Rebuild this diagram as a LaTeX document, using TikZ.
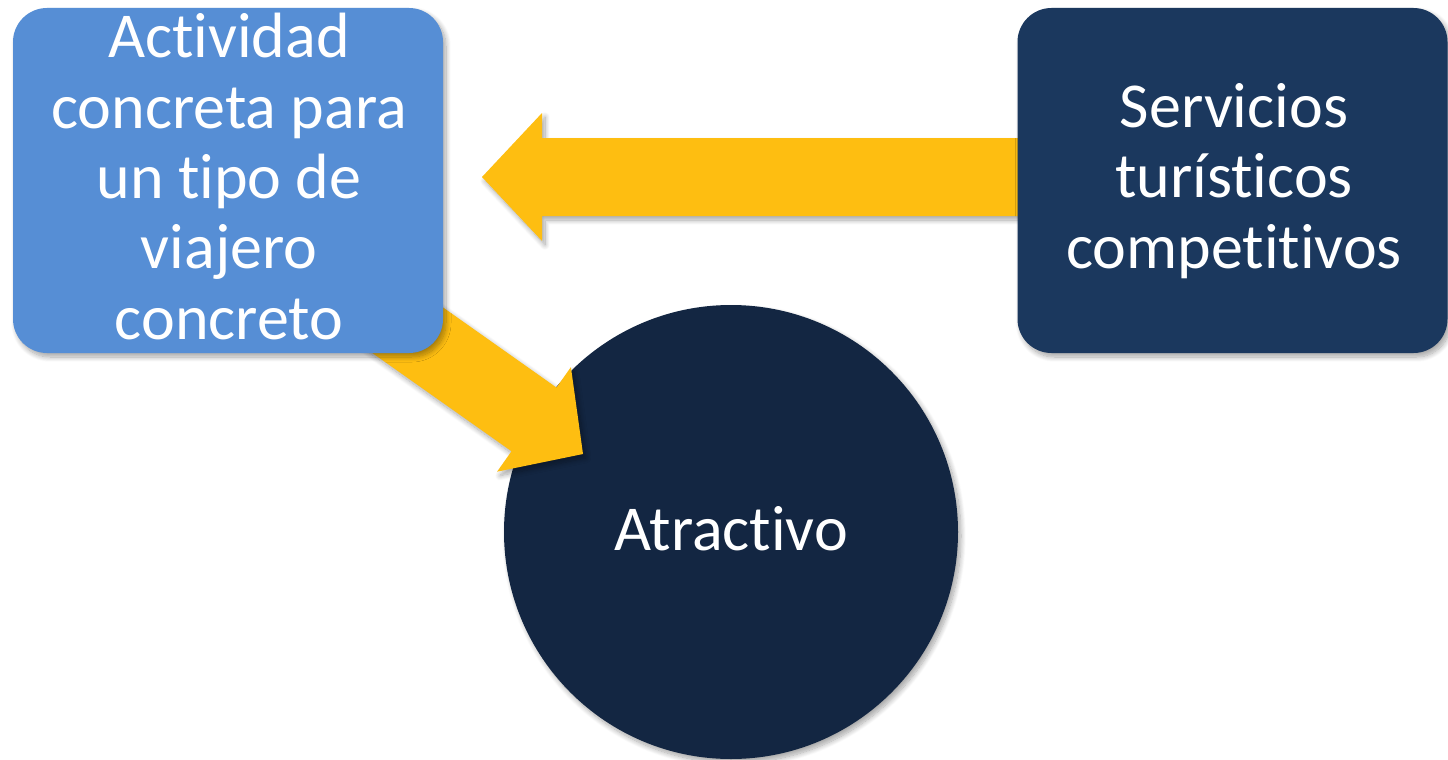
\documentclass[tikz,border=0pt]{standalone}
\usepackage{fontspec}
\setmainfont{Carlito}[RawFeature={-liga;-clig}]
\usetikzlibrary{calc,shadows.blur}

\definecolor{actblue}{RGB}{86,142,213}
\definecolor{servnavy}{RGB}{27,56,94}
\definecolor{atrnavy}{RGB}{19,38,66}
\definecolor{arrowgold}{RGB}{254,190,17}

\tikzset{
  softshadow/.style={blur shadow={shadow xshift=3pt, shadow yshift=-4pt,
      shadow blur radius=5pt, shadow blur steps=10, shadow opacity=35}},
  roundbox/.style={rectangle, rounded corners=34pt, draw=none, softshadow,
      minimum width=430pt, minimum height=345pt, inner sep=0pt},
  bigtext/.style={text=white, align=center, inner sep=0pt,
      font=\fontsize{64}{70.3}\selectfont},
  blockarrow/.style={fill=arrowgold, draw=none, softshadow},
}

% Block arrow from #1 (tail) to #2 (tip)
\newcommand\blockarrow[2]{%
  \coordinate (ba-b) at ($(#2)!60pt!(#1)$);
  \path[blockarrow]
    ($(#1)!39pt!90:(#2)$) -- ($(ba-b)!39pt!90:(#2)$) -- ($(ba-b)!64pt!90:(#2)$)
    -- (#2)
    -- ($(ba-b)!64pt!-90:(#2)$) -- ($(ba-b)!39pt!-90:(#2)$) -- ($(#1)!39pt!-90:(#2)$)
    -- cycle;
}

\begin{document}
\begin{tikzpicture}[x=1pt, y=-1pt]
  \useasboundingbox (0,0) rectangle (1448,760);

  % central circle
  \node[circle, fill=atrnavy, minimum size=454pt, inner sep=0pt, softshadow] (atr) at (731,532) {};
  \node[bigtext, anchor=base] (atrtxt) at (731,550) {Atractivo};

  % arrow tails and tips
  \coordinate (h0) at (1100,177);
  \coordinate (h1) at (482,177);
  \coordinate (d0) at (338,281);
  \coordinate (d1) at (583,454);
  \blockarrow{d0}{d1}
  \blockarrow{h0}{h1}

  % boxes
  \node[roundbox, fill=actblue] (act) at (228,180.5) {};
  \node[roundbox, fill=servnavy] (serv) at (1232.5,180.5) {};

  % multi-line labels: base anchor sits on the last line
  \node[bigtext, anchor=base] (acttxt) at (229,339)
    {Actividad\\concreta para\\un tipo de\\viajero\\concreto};
  \node[bigtext, anchor=base] (servtxt) at (1234,268)
    {Servicios\\turísticos\\competitivos};
\end{tikzpicture}
\end{document}
